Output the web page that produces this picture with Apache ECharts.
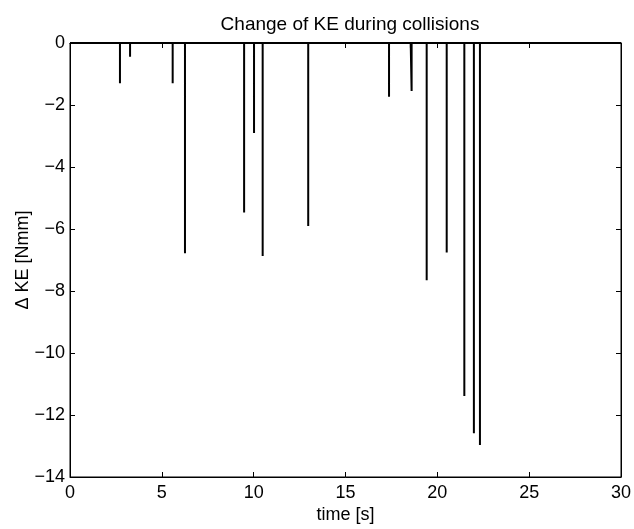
<!DOCTYPE html>
<html>
<head>
<meta charset="utf-8">
<script src="https://cdn.jsdelivr.net/npm/echarts@6/dist/echarts.min.js"></script>
<style>html,body{margin:0;padding:0;background:#fff}#c{width:634px;height:529px}</style>
</head>
<body>
<div id="c"></div>
<script>
// Collision times [s] and change of KE [Nmm]
const times = [2.72, 3.27, 5.59, 6.26, 9.48, 10.02, 10.49, 12.97, 17.37, 18.55, 18.60, 19.42, 20.51, 21.47, 21.99, 22.32];
const deltaKE = [-1.30, -0.44, -1.30, -6.78, -5.47, -2.90, -6.87, -5.90, -1.73, -0.15, -1.55, -7.65, -6.76, -11.39, -12.59, -12.97];
const xTicks = [0, 5, 10, 15, 20, 25, 30];
const yTicks = [0, -2, -4, -6, -8, -10, -12, -14];

// build zero-baseline impulse trace
const trace = [[xTicks[0], 0]];
for (let i = 0; i < times.length; i++) {
  trace.push([times[i], 0], [times[i], deltaKE[i]], [times[i], 0]);
}
trace.push([xTicks[xTicks.length - 1], 0]);

const font = 'Liberation Sans, Arial, Helvetica, sans-serif';
const fmtY = v => (v < 0 ? '\u2212' + Math.abs(v) : String(v));
const chart = echarts.init(document.getElementById('c'), null, {renderer: 'canvas'});
chart.setOption({
  animation: false,
  backgroundColor: '#fff',
  title: {
    text: 'Change of KE during collisions', left: 345, top: 10, textAlign: 'center',
    textStyle: {fontFamily: font, fontSize: 19, fontWeight: 'normal', color: '#000'}
  },
  grid: {left: 70, right: 13, top: 43, bottom: 52, containLabel: false, outerBoundsMode: 'none',
    show: true, borderColor: '#000', borderWidth: 1, backgroundColor: 'transparent'},
  xAxis: [{
    type: 'value', min: xTicks[0], max: xTicks[xTicks.length - 1], interval: 5,
    name: 'time [s]', nameLocation: 'middle', nameGap: 29, nameMoveOverlap: false,
    nameTextStyle: {fontFamily: font, fontSize: 18, color: '#000'},
    axisLine: {show: true, onZero: false, lineStyle: {color: '#000', width: 1}},
    axisTick: {show: true, inside: true, length: 5, lineStyle: {color: '#000'}},
    axisLabel: {fontFamily: font, fontSize: 18, color: '#000', margin: 7},
    splitLine: {show: false}
  }, {
    type: 'value', position: 'top', min: xTicks[0], max: xTicks[xTicks.length - 1], interval: 5,
    axisLine: {show: true, onZero: false, lineStyle: {color: '#000', width: 1}},
    axisTick: {show: true, inside: true, length: 5, lineStyle: {color: '#000'}},
    axisLabel: {show: false}, splitLine: {show: false}
  }],
  yAxis: [{
    type: 'value', min: yTicks[yTicks.length - 1], max: yTicks[0], interval: 2,
    name: '\u0394 KE [Nmm]', nameLocation: 'middle', nameGap: 38, nameRotate: 90, nameMoveOverlap: false,
    nameTextStyle: {fontFamily: font, fontSize: 18, color: '#000'},
    axisLine: {show: true, onZero: false, lineStyle: {color: '#000', width: 1}},
    axisTick: {show: true, inside: true, length: 5, lineStyle: {color: '#000'}},
    axisLabel: {fontFamily: font, fontSize: 18, color: '#000', margin: 5, formatter: fmtY},
    splitLine: {show: false}
  }, {
    type: 'value', position: 'right', min: yTicks[yTicks.length - 1], max: yTicks[0], interval: 2,
    axisLine: {show: true, onZero: false, lineStyle: {color: '#000', width: 1}},
    axisTick: {show: true, inside: true, length: 5, lineStyle: {color: '#000'}},
    axisLabel: {show: false}, splitLine: {show: false}
  }],
  series: [{
    type: 'line', data: trace, xAxisIndex: 0, yAxisIndex: 0,
    showSymbol: false, symbol: 'none',
    lineStyle: {color: '#000', width: 2}, clip: true
  }]
});
</script>
</body>
</html>
